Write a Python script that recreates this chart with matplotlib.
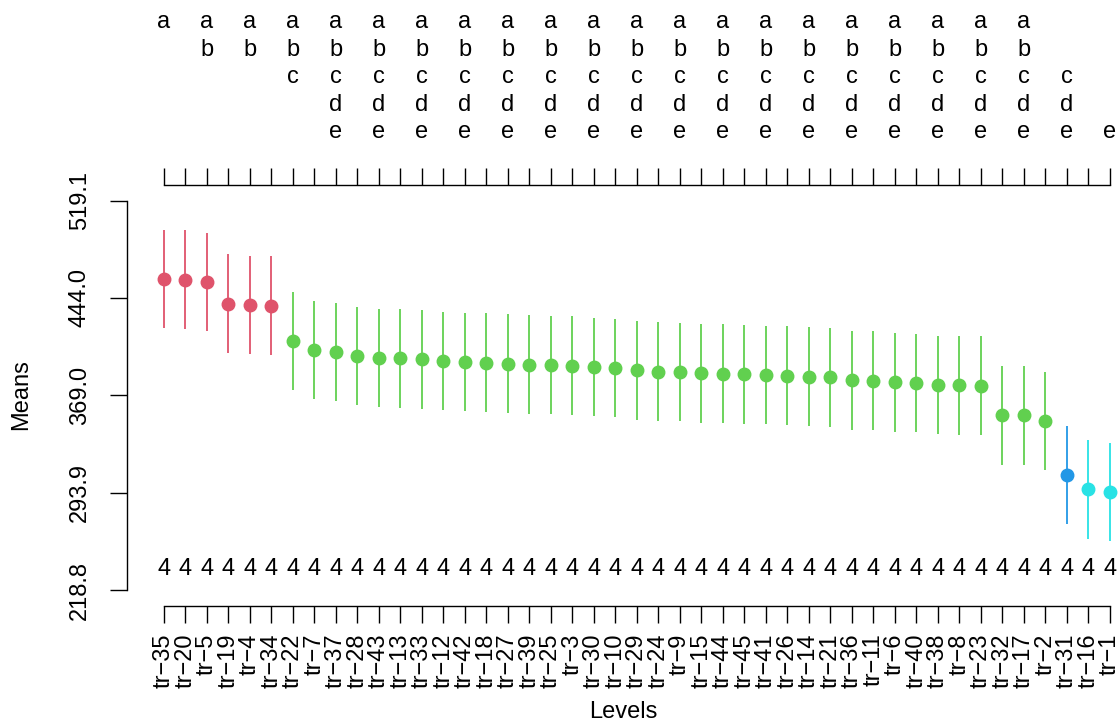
import matplotlib

matplotlib.use("Agg")
import matplotlib.pyplot as plt
import matplotlib.transforms as mtransforms
import numpy as np

plt.rcParams["font.family"] = ["Liberation Sans", "DejaVu Sans"]

# Levels sorted by mean (left to right)
levels = [
    "tr-35", "tr-20", "tr-5", "tr-19", "tr-4", "tr-34", "tr-22", "tr-7", "tr-37",
    "tr-28", "tr-43", "tr-13", "tr-33", "tr-12", "tr-42", "tr-18", "tr-27", "tr-39",
    "tr-25", "tr-3", "tr-30", "tr-10", "tr-29", "tr-24", "tr-9", "tr-15", "tr-44",
    "tr-45", "tr-41", "tr-26", "tr-14", "tr-21", "tr-36", "tr-11", "tr-6", "tr-40",
    "tr-38", "tr-8", "tr-23", "tr-32", "tr-17", "tr-2", "tr-31", "tr-16", "tr-1",
]
means = [
    458.7, 458.2, 456.2, 439.6, 438.6, 438.1, 410.8, 403.8, 402.5, 399.4,
    397.6, 397.4, 396.8, 395.4, 394.7, 394.1, 393.4, 392.6, 392.4, 391.8,
    390.8, 390.0, 388.3, 387.2, 387.0, 386.0, 385.7, 385.2, 384.7, 384.1,
    383.3, 382.9, 380.6, 380.3, 379.0, 378.5, 376.9, 376.7, 376.4, 353.6,
    353.5, 349.2, 307.5, 296.5, 294.4,
]
ci_half = 38.0
reps = [4] * 45
clusters = [1] * 6 + [2] * 36 + [3] + [4] * 2
letters = (
    ["a", "ab", "ab", "ab", "ab", "abc", "abc", "abcde"]
    + ["abcde"] * 34
    + ["cde", "de", "e"]
)
yticks = [218.8, 293.9, 369.0, 444.0, 519.1]

palette = {1: "#DF536B", 2: "#61D04F", 3: "#2297E6", 4: "#28E2E5"}

W, H = 1120, 725
fig = plt.figure(figsize=(W / 100, H / 100), dpi=100)
ax = fig.add_axes([127 / W, 1 - 605.7 / H, (W - 127) / W, (605.7 - 185) / H])

x = np.arange(1, len(levels) + 1)
m = np.array(means)
cl = np.array(clusters)
for c in sorted(palette):
    sel = cl == c
    ax.errorbar(x[sel], m[sel], yerr=ci_half, fmt="o", color=palette[c],
                ms=9, elinewidth=1.3, capsize=0)

ax.set_xlim(-0.72, 45.47)
ax.set_ylim(206.8, 531.1)

# R style axes
ax.spines["right"].set_visible(False)
ax.spines["left"].set_bounds(yticks[0], yticks[-1])
ax.spines["top"].set_bounds(1, len(levels))
ax.spines["bottom"].set_bounds(1, len(levels))
for s in ["left", "top", "bottom"]:
    ax.spines[s].set_linewidth(1.0)

ax.set_yticks(yticks)
ax.set_yticklabels([f"{v:.1f}" for v in yticks], rotation=90, va="center")
ax.set_xticks(x)
ax.set_xticklabels([s.replace("-", "\u2212") for s in levels], rotation=90)
ax.tick_params(axis="y", length=12, width=1.0, pad=14, labelsize=17)
ax.tick_params(axis="x", length=12, width=1.0, pad=8, labelsize=17,
               top=True, labeltop=False)

# number of replicates inside the plot
for xi, r in zip(x, reps):
    ax.text(xi, 230.4, str(r), ha="center", va="baseline", fontsize=17)

# group letters above; R drops every other one because they overlap
trans = mtransforms.blended_transform_factory(ax.transData, fig.transFigure)
for i in range(0, len(levels), 2):
    for ch in letters[i]:
        row = "abcde".index(ch)
        ax.text(x[i], 1 - (28.3 + 27.5 * row) / H, ch, transform=trans,
                ha="center", va="baseline", fontsize=17, clip_on=False)

fig.text(21 / W, 1 - 395 / H, "Means", rotation=90, ha="center", va="center",
         fontsize=17)
fig.text(623 / W, 1 - 712 / H, "Levels", ha="center", va="center", fontsize=17)

fig.savefig("out.png", dpi=100)
